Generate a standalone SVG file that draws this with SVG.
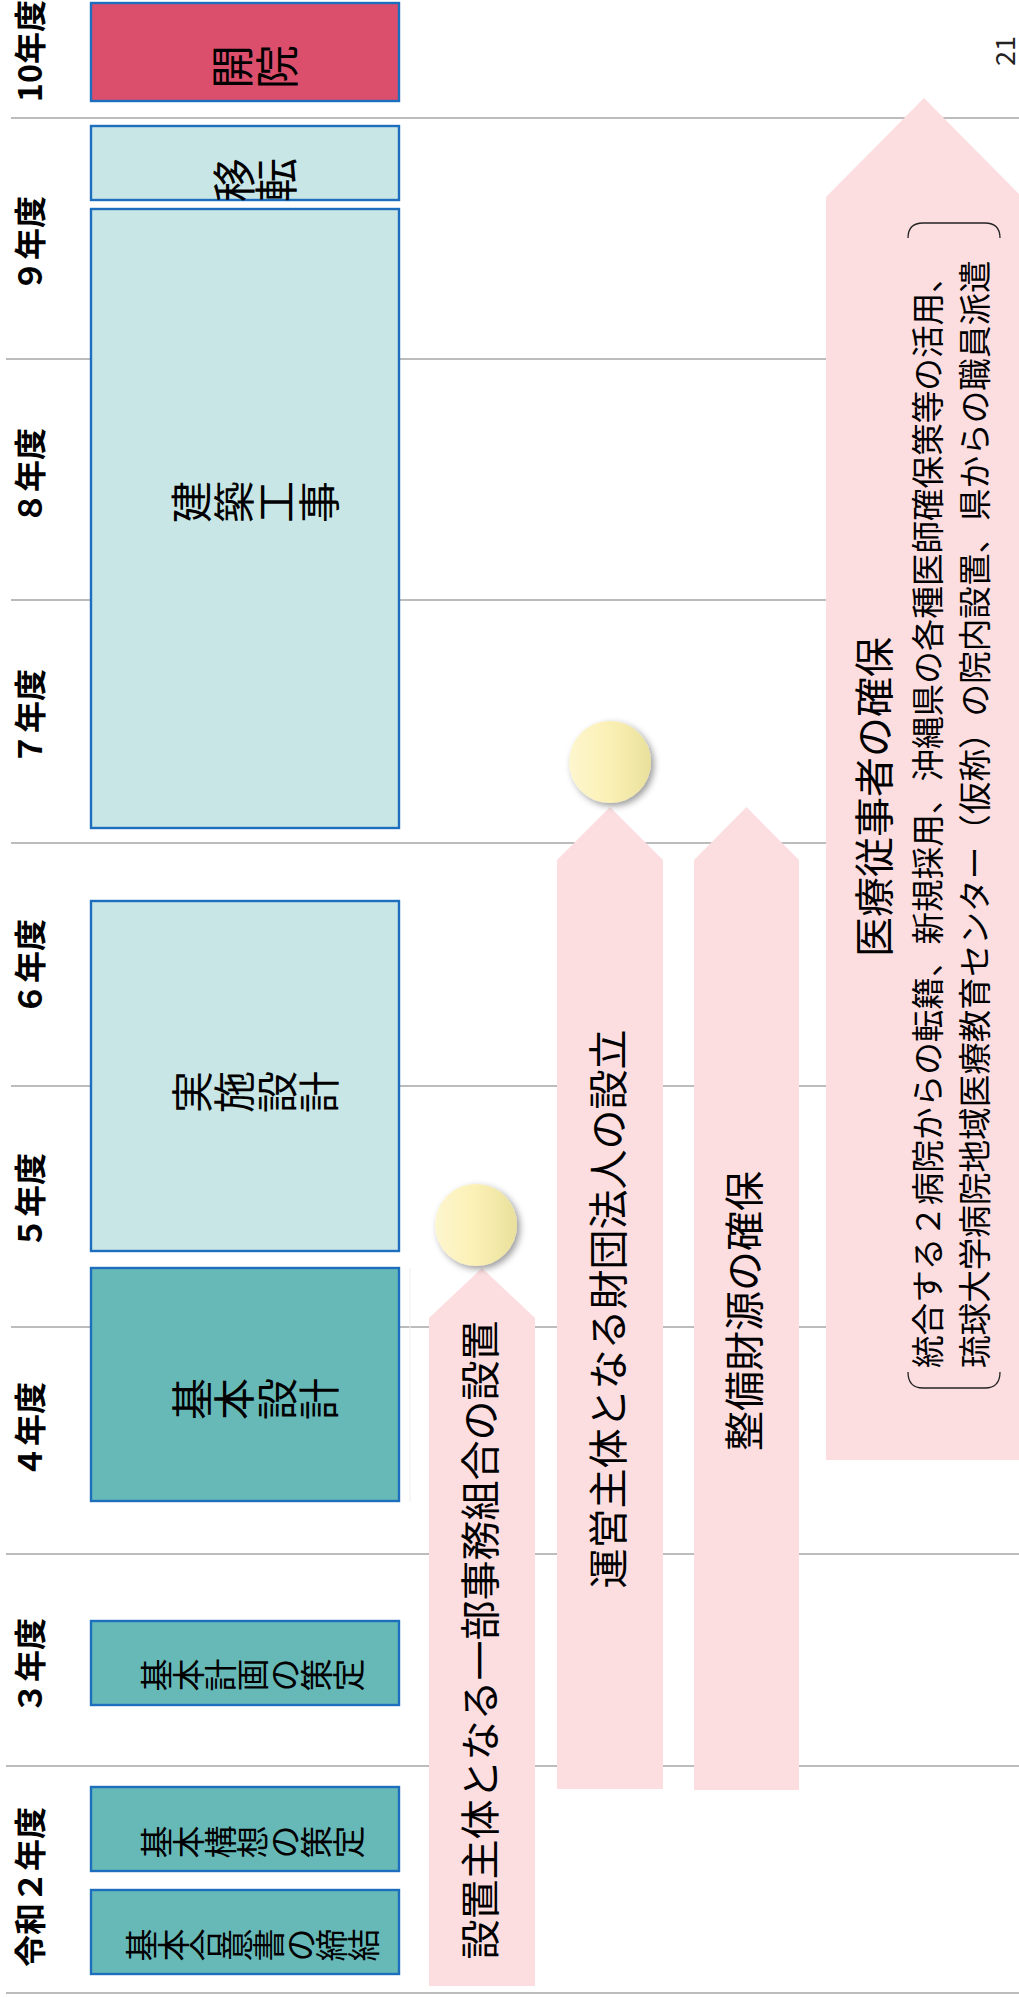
<svg xmlns="http://www.w3.org/2000/svg" width="1019" height="1997" viewBox="0 0 1019 1997">
<defs>
<style>
text{font-family:"Noto Sans CJK JP","Noto Sans CJK SC",sans-serif;fill:#000}
.grid line{stroke:#a6a6a6;stroke-width:1.6}
.box{stroke:#1e6ebe;stroke-width:2.4}
.red{fill:#db4f6c}
.lt{fill:#c8e6e6}
.dk{fill:#67b9b8}
.yr{font-size:32px;font-weight:700}
.bt{font-size:42px}
.bs{font-size:33px}
.bx{font-size:44px}
.arrow{fill:#fcdee1}
.at{font-size:40px}
.sub{font-size:32.6px}
.brk{fill:none;stroke:#222;stroke-width:1.3}
</style>
<linearGradient id="gold" x1="0" y1="0" x2="1" y2="0">
<stop offset="0" stop-color="#fdf6cf"/>
<stop offset="0.5" stop-color="#fbf0b4"/>
<stop offset="1" stop-color="#e9e09c"/>
</linearGradient>
<filter id="sh" x="-30%" y="-30%" width="170%" height="170%">
<feDropShadow dx="3" dy="3" stdDeviation="3.5" flood-color="#000" flood-opacity="0.4"/>
</filter>
</defs>
<rect width="1019" height="1997" fill="#fff"/>

<g id="grid" class="grid">
<line x1="11" y1="118" x2="1019" y2="118"/>
<line x1="6" y1="359" x2="1019" y2="359"/>
<line x1="11" y1="600" x2="1019" y2="600"/>
<line x1="11" y1="843" x2="1019" y2="843"/>
<line x1="11" y1="1086" x2="1019" y2="1086"/>
<line x1="11" y1="1327" x2="1019" y2="1327"/>
<line x1="6" y1="1554" x2="1019" y2="1554"/>
<line x1="6" y1="1766" x2="1019" y2="1766"/>
<line x1="6" y1="1993" x2="1019" y2="1993"/>
</g>

<g id="years">
<text class="yr" transform="translate(28 51) rotate(-90)" text-anchor="middle" dominant-baseline="central">10年度</text>
<text class="yr" transform="translate(28 244) rotate(-90)" text-anchor="middle" dominant-baseline="central">９年度</text>
<text class="yr" transform="translate(28 476) rotate(-90)" text-anchor="middle" dominant-baseline="central">８年度</text>
<text class="yr" transform="translate(28 717) rotate(-90)" text-anchor="middle" dominant-baseline="central">７年度</text>
<text class="yr" transform="translate(28 967) rotate(-90)" text-anchor="middle" dominant-baseline="central">６年度</text>
<text class="yr" transform="translate(28 1201) rotate(-90)" text-anchor="middle" dominant-baseline="central">５年度</text>
<text class="yr" transform="translate(28 1430) rotate(-90)" text-anchor="middle" dominant-baseline="central">４年度</text>
<text class="yr" transform="translate(28 1666) rotate(-90)" text-anchor="middle" dominant-baseline="central">３年度</text>
<text class="yr" transform="translate(28 1887) rotate(-90)" text-anchor="middle" dominant-baseline="central">令和２年度</text>
</g>

<g id="node-kaiin">
<rect class="box red" x="91" y="3" width="308" height="98"/>
<text class="bx" transform="translate(252 67) rotate(-90)" x="0 0" y="-22.5 22.5" text-anchor="middle" dominant-baseline="central">開院</text>
</g>
<g id="node-iten">
<rect class="box lt" x="91" y="126" width="308" height="74"/>
<text class="bx" transform="translate(253 180) rotate(-90)" x="0 0" y="-21 21" text-anchor="middle" dominant-baseline="central">移転</text>
</g>
<g id="node-kenchiku">
<rect class="box lt" x="91" y="209" width="308" height="619"/>
<text class="bt" transform="translate(252.5 502) rotate(-90)" x="0 0 0 0" y="-63.75 -21.25 21.25 63.75" text-anchor="middle" dominant-baseline="central">建築工事</text>
</g>
<g id="node-jisshi">
<rect class="box lt" x="91" y="901" width="308" height="350"/>
<text class="bt" transform="translate(253 1092) rotate(-90)" x="0 0 0 0" y="-63.75 -21.25 21.25 63.75" text-anchor="middle" dominant-baseline="central">実施設計</text>
</g>
<g id="node-kihonsekkei">
<rect class="box dk" x="91" y="1268" width="308" height="233"/>
<text class="bt" transform="translate(253 1399) rotate(-90)" x="0 0 0 0" y="-63.75 -21.25 21.25 63.75" text-anchor="middle" dominant-baseline="central">基本設計</text>
<line x1="410" y1="1268" x2="410" y2="1502" stroke="#eeeeee" stroke-width="1"/>
</g>
<g id="node-keikaku">
<rect class="box dk" x="91" y="1621" width="308" height="84"/>
<text class="bs" transform="translate(251 1675) rotate(-90)" x="0 0 0 0 0 0 0" y="-96 -64 -32 0 32 64 96" text-anchor="middle" dominant-baseline="central">基本計画の策定</text>
</g>
<g id="node-koso">
<rect class="box dk" x="91" y="1787" width="308" height="84"/>
<text class="bs" transform="translate(251 1842) rotate(-90)" x="0 0 0 0 0 0 0" y="-96 -64 -32 0 32 64 96" text-anchor="middle" dominant-baseline="central">基本構想の策定</text>
</g>
<g id="node-goi">
<rect class="box dk" x="91" y="1890" width="308" height="84"/>
<text class="bs" transform="translate(251 1945) rotate(-90)" x="0 0 0 0 0 0 0 0" y="-110.9 -79.2 -47.5 -15.8 15.8 47.5 79.2 110.9" text-anchor="middle" dominant-baseline="central">基本合意書の締結</text>
</g>

<g id="node-setchi">
<path class="arrow" d="M429,1318 L482,1268 L535,1318 L535,1986 L429,1986 Z"/>
<text class="at" transform="translate(478 1640) rotate(-90)" text-anchor="middle" dominant-baseline="central">設置主体となる一部事務組合の設置</text>
<circle cx="476" cy="1225" r="41" fill="url(#gold)" filter="url(#sh)"/>
</g>
<g id="node-zaidan">
<path class="arrow" d="M557,860 L610,807 L663,860 L663,1789 L557,1789 Z"/>
<text class="at" transform="translate(606 1309) rotate(-90)" text-anchor="middle" dominant-baseline="central">運営主体となる財団法人の設立</text>
<circle cx="610" cy="762" r="41" fill="url(#gold)" filter="url(#sh)"/>
</g>
<g id="node-zaigen">
<path class="arrow" d="M694,860 L746.5,807 L799,860 L799,1790 L694,1790 Z"/>
<text class="at" transform="translate(742 1311) rotate(-90)" text-anchor="middle" dominant-baseline="central">整備財源の確保</text>
</g>
<g id="node-iryo">
<path class="arrow" d="M826,197 L924,98 L1022,197 L1022,1460 L826,1460 Z"/>
<text class="at" transform="translate(872 797) rotate(-90)" text-anchor="middle" dominant-baseline="central">医療従事者の確保</text>
<text class="sub" transform="translate(925 1368) rotate(-90)" dominant-baseline="central">統合する２病院からの転籍、新規採用、沖縄県の各種医師確保策等の活用、</text>
<text class="sub" transform="translate(972 1368) rotate(-90)" dominant-baseline="central">琉球大学病院地域医療教育センター（仮称）の院内設置、県からの職員派遣</text>
<path class="brk" d="M908,238 Q908,223 923,223 L985,223 Q1000,223 1000,238"/>
<path class="brk" d="M908,1372 Q908,1388 923,1388 L985,1388 Q1000,1388 1000,1372"/>
</g>

<g id="connectors"></g>

<text id="page" transform="translate(1003 51) rotate(-90)" text-anchor="middle" dominant-baseline="central" style="font-size:27px;fill:#222">21</text>
</svg>
